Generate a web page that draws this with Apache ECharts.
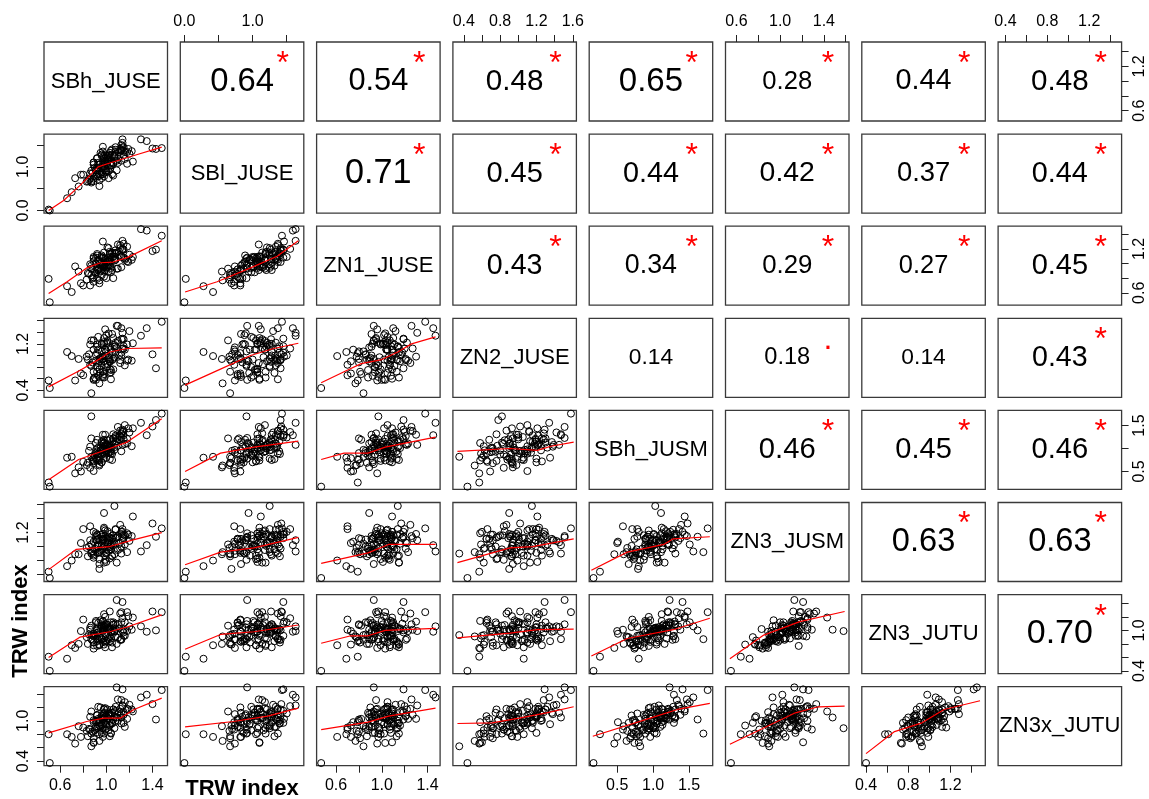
<!DOCTYPE html>
<html><head><meta charset="utf-8">
<script src="https://cdn.jsdelivr.net/npm/echarts@6/dist/echarts.min.js"></script>
<style>html,body{margin:0;padding:0;background:#fff}#c{width:1149px;height:799px}</style>
</head><body><div id="c"></div>
<script>
// ---------- variables (tree-ring width indices, one value per year) ----------
const varNames = ['SBh_JUSE','SBl_JUSE','ZN1_JUSE','ZN2_JUSE','SBh_JUSM','ZN3_JUSM','ZN3_JUTU','ZN3x_JUTU'];

const SBh_JUSE = [1.05,0.87,1.16,0.95,1.04,0.92,1.18,0.97,0.89,1.13,
0.76,1.04,1.10,0.95,0.94,1.23,1.03,0.98,0.87,1.01,
1.06,1.14,0.80,1.09,1.01,1.16,0.89,1.00,1.03,0.98,
1.35,0.86,0.96,1.05,1.07,1.07,1.04,0.87,1.02,1.03,
1.13,0.93,1.15,0.92,0.70,0.97,1.08,0.94,1.12,0.96,
0.98,1.30,0.89,1.15,0.78,1.14,0.97,0.99,0.98,0.98,
0.66,1.13,1.06,1.00,0.93,1.43,0.92,0.97,0.89,1.12,
1.40,0.99,1.02,0.93,1.19,0.84,1.22,0.86,1.02,0.94,
1.08,0.91,0.99,0.99,1.18,0.98,0.91,0.93,1.13,0.92,
1.48,0.73,1.09,0.89,1.15,0.96,0.96,1.03,0.50,0.51,
1.07,0.90,1.08,1.00,1.01,0.85,1.20,0.94,0.97,1.10,0.91,1.04,
0.88,1.14,0.99,1.03,0.96,1.05,0.83,1.06,1.00,1.11,0.92,1.02];

const SBl_JUSE = [1.28,0.64,1.34,0.82,1.37,0.89,1.07,1.07,1.05,1.50,
0.55,1.07,1.09,1.32,0.83,1.12,1.07,1.25,0.67,1.21,
0.80,1.63,0.82,1.14,1.12,1.18,1.10,1.07,1.32,0.78,
1.59,0.73,1.25,0.83,1.27,1.25,1.03,0.91,0.74,1.21,
1.37,0.78,1.37,0.98,0.42,1.01,1.39,0.69,1.37,0.87,
0.94,1.63,0.67,1.27,0.82,1.45,0.83,1.18,1.19,1.10,
0.28,1.39,1.07,0.91,1.05,1.41,0.82,1.46,0.73,1.41,
1.42,0.96,1.16,0.98,1.41,0.67,1.36,0.85,1.25,0.56,
1.34,0.78,0.91,1.28,1.34,1.01,0.92,1.09,1.14,1.19,
1.43,0.74,0.92,1.10,1.45,1.00,0.74,1.27,0.02,0.00,
1.22,0.98,1.45,0.88,1.15,0.70,1.30,1.05,1.35,1.18,0.92,1.03,
0.85,1.55,1.12,0.95,1.28,1.40,0.66,1.10,1.25,1.33,1.20,0.90];

const ZN1_JUSE = [1.15,0.93,1.07,0.90,1.02,1.11,1.03,0.98,1.07,1.09,
0.89,0.94,1.26,0.97,0.93,1.09,1.06,0.99,0.84,1.22,
0.80,1.31,0.70,1.15,1.03,1.05,1.09,1.01,1.13,0.82,
1.45,0.70,1.11,0.91,1.06,1.14,0.88,0.97,0.89,1.16,
1.10,0.92,1.27,0.94,0.61,1.08,1.14,0.73,1.25,0.92,
0.89,1.47,0.81,1.19,0.73,1.19,0.97,1.04,1.15,0.96,
0.69,1.10,1.09,0.80,1.04,1.19,0.79,1.30,0.75,1.21,
1.17,1.05,0.98,1.05,1.02,0.87,1.05,0.99,1.21,0.77,
1.05,0.86,1.07,0.91,1.23,0.95,1.08,0.91,0.95,1.13,
1.38,0.96,0.93,1.03,1.08,1.09,0.84,0.97,0.79,0.47,
1.04,0.88,1.18,1.02,0.95,0.86,1.12,0.99,1.08,0.93,1.00,1.09,
0.80,1.20,0.96,1.05,1.01,1.14,0.78,1.10,0.94,1.16,0.91,1.03];

const ZN2_JUSE = [1.06,1.26,0.83,0.96,0.59,1.19,1.19,0.72,1.26,1.00,
0.94,0.71,1.51,0.70,0.94,1.21,0.77,1.20,0.35,1.22,
0.94,1.39,0.66,1.13,1.25,1.10,0.60,1.21,0.93,0.68,
1.47,0.84,0.82,1.37,0.97,1.15,0.75,0.82,1.14,0.90,
1.47,0.65,1.12,0.80,0.99,0.65,1.16,0.90,0.87,1.20,
0.90,1.34,0.72,1.28,0.69,1.29,0.63,1.10,0.62,1.23,
1.06,1.05,0.76,1.07,1.10,0.78,1.04,0.98,1.10,0.92,
1.02,1.10,0.97,1.32,0.93,0.93,0.91,1.19,0.94,0.52,
1.22,1.01,0.84,1.00,0.91,1.30,0.91,0.87,1.28,0.72,
1.58,0.57,1.51,0.58,1.16,0.93,1.07,0.89,0.57,0.44,
1.18,0.62,1.05,1.35,0.85,1.02,1.42,0.76,0.95,1.25,0.58,1.10,
0.88,1.12,1.45,0.70,1.20,0.92,0.98,1.30,0.80,1.00,1.15,1.38];

const SBh_JUSM = [0.75,1.22,1.10,0.96,0.89,1.19,1.21,1.00,0.72,1.24,
0.59,1.02,1.47,1.01,0.66,1.44,1.06,0.78,0.82,1.08,
1.22,1.08,0.71,1.16,0.96,1.51,0.80,1.08,0.77,1.19,
1.29,0.58,1.13,1.14,0.97,1.03,0.93,1.70,0.91,1.01,
1.31,0.74,1.38,0.87,0.82,0.89,1.15,0.79,1.39,0.70,
1.11,1.56,0.68,1.20,0.50,1.41,0.96,0.94,1.05,1.12,
0.80,0.94,1.31,0.90,0.89,1.62,0.76,1.30,0.51,1.27,
1.48,1.05,0.92,1.02,1.44,0.69,1.05,1.04,1.09,0.63,
1.28,0.90,0.87,1.30,1.11,1.13,0.78,0.83,1.33,0.94,
1.76,0.46,1.23,0.74,1.29,0.70,0.97,1.20,0.26,0.17,
1.10,0.85,1.25,0.80,1.18,0.95,1.35,0.73,1.02,1.06,1.12,0.98,
0.76,1.36,1.08,0.92,1.15,0.88,0.64,1.22,0.96,1.20,1.00,1.04];

const ZN3_JUSM = [0.87,1.03,1.16,0.94,1.03,1.09,1.19,1.09,0.87,1.21,
0.89,0.96,1.15,1.17,0.75,1.43,0.83,1.25,0.90,1.05,
1.02,1.09,1.25,0.77,1.11,1.03,1.21,0.78,0.96,1.11,
1.02,1.29,0.96,1.11,0.89,1.58,1.00,0.92,0.94,1.18,
0.90,1.11,1.12,1.16,0.80,1.11,1.25,0.68,1.31,0.91,
1.48,0.93,0.89,1.14,1.05,1.21,0.98,1.23,0.77,1.27,
0.72,1.00,1.13,1.12,1.00,1.14,0.91,1.18,1.07,0.97,
1.33,0.87,1.14,1.03,1.17,0.86,1.15,1.09,1.06,0.92,
1.24,1.10,0.81,1.15,0.92,1.01,1.14,0.91,1.18,1.17,
1.26,0.89,1.13,0.84,1.17,1.01,1.04,1.12,0.64,0.55,
1.05,0.97,1.12,0.90,1.22,1.00,1.08,0.82,1.10,0.95,1.19,1.02,
0.93,1.25,1.06,0.99,1.14,0.86,0.98,1.16,0.92,1.04,1.01,1.09];

const ZN3_JUTU = [0.75,1.07,0.92,1.15,0.88,0.88,1.27,0.98,0.78,1.12,
0.80,0.98,1.09,1.03,0.90,1.19,1.02,1.05,0.93,0.88,
1.08,0.99,1.16,0.80,1.02,1.12,0.92,0.85,0.84,1.07,
0.98,1.01,1.07,0.98,0.98,0.99,1.12,0.87,0.87,1.02,
0.87,1.11,1.01,1.00,0.78,1.14,1.02,0.79,1.25,0.87,
1.01,1.06,0.82,0.97,0.99,1.42,0.83,1.20,0.79,1.24,
0.58,0.86,1.09,1.09,0.97,1.00,0.84,1.13,0.95,0.86,
1.28,0.82,1.01,1.03,1.21,0.80,1.01,1.04,1.02,0.91,
0.91,1.12,0.75,1.09,0.99,1.03,0.92,0.86,1.27,0.77,
1.27,0.74,1.45,0.73,0.92,1.05,0.86,1.28,0.61,0.40,
0.99,0.93,1.10,0.84,1.08,0.94,1.06,0.78,1.00,0.89,1.14,0.97,
0.85,1.18,1.05,0.90,1.09,0.82,0.90,1.12,0.95,1.03,0.96,1.04];

const ZN3x_JUTU = [0.97,1.14,0.91,1.20,0.81,1.08,1.18,0.89,1.01,1.11,
0.92,0.82,1.32,0.91,0.97,1.14,1.00,1.11,0.62,1.17,
1.02,1.23,0.90,1.05,1.04,1.28,0.68,1.07,0.77,1.03,
1.39,0.87,0.94,1.12,1.13,0.89,1.12,0.81,1.10,0.93,
1.05,1.01,1.09,1.09,0.76,1.07,1.00,0.93,1.18,0.82,
1.05,1.35,0.74,1.13,0.76,1.47,0.76,1.19,0.81,1.18,
0.80,0.96,1.17,1.00,1.03,1.02,0.98,1.03,0.98,1.08,
1.25,0.96,0.86,1.21,1.17,0.77,1.17,1.06,1.07,0.70,
1.21,0.91,0.87,1.06,1.03,1.17,0.82,0.91,1.31,0.89,
1.46,0.66,1.50,0.67,0.97,1.08,0.93,1.10,0.80,0.37,
1.06,0.86,1.15,0.95,1.04,0.88,1.24,0.80,1.02,1.00,0.98,1.08,
0.84,1.22,1.12,0.94,1.05,0.96,0.85,1.17,0.92,1.13,1.00,1.10];

// ---------- correlation coefficients (upper triangle, row by row) ----------
const corrRow1 = [0.64,0.54,0.48,0.65,0.28,0.44,0.48];
const corrRow2 = [0.71,0.45,0.44,0.42,0.37,0.44];
const corrRow3 = [0.43,0.34,0.29,0.27,0.45];
const corrRow4 = [0.14,0.18,0.14,0.43];
const corrRow5 = [0.46,0.45,0.46];
const corrRow6 = [0.63,0.63];
const corrRow7 = [0.70];
const sigRow1 = ['*','*','*','*','*','*','*'];
const sigRow2 = ['*','*','*','*','*','*'];
const sigRow3 = ['*','*','*','*','*'];
const sigRow4 = ['','.','','*'];
const sigRow5 = ['*','*','*'];
const sigRow6 = ['*','*'];
const sigRow7 = ['*'];

// ---------- axis ranges and tick labels per variable ----------
const axisMin = [0.46,-0.06,0.43,0.28,0.11,0.50,0.36,0.33];
const axisMax = [1.53, 1.75,1.51,1.64,1.83,1.63,1.53,1.51];
const ticksV1 = [0.6,0.8,1.0,1.2,1.4];
const ticksV2 = [0.0,0.5,1.0,1.5];
const ticksV3 = [0.6,0.8,1.0,1.2,1.4];
const ticksV4 = [0.4,0.6,0.8,1.0,1.2,1.4,1.6];
const ticksV5 = [0.5,1.0,1.5];
const ticksV6 = [0.6,0.8,1.0,1.2,1.4,1.6];
const ticksV7 = [0.4,0.6,0.8,1.0,1.2,1.4];
const ticksV8 = [0.4,0.6,0.8,1.0,1.2,1.4];
// labels on the horizontal (top/bottom) axes
const xLabelsV1 = [0.6,1.0,1.4];
const xLabelsV2 = [0.0,1.0];
const xLabelsV3 = [0.6,1.0,1.4];
const xLabelsV4 = [0.4,0.8,1.2,1.6];
const xLabelsV5 = [0.5,1.0,1.5];
const xLabelsV6 = [0.6,1.0,1.4];
const xLabelsV7 = [0.4,0.8,1.2];
const xLabelsV8 = [0.4,0.8,1.2];
// labels on the vertical (left/right) axes
const yLabelsV1 = [0.6,1.2];
const yLabelsV2 = [0.0,1.0];
const yLabelsV3 = [0.6,1.2];
const yLabelsV4 = [0.4,1.2];
const yLabelsV5 = [0.5,1.5];
const yLabelsV6 = [1.2];
const yLabelsV7 = [0.4,1.0];
const yLabelsV8 = [0.4,1.0];

// ---------- red smoother lines (x = column var, y = row var) ----------
const loess_2_1 = [[0.50,0.00],[0.63,0.23],[0.77,0.57],[0.93,1.00],[1.01,1.07],[1.24,1.26],[1.48,1.45]];
const loess_3_1 = [[0.50,0.59],[0.66,0.75],[0.83,0.94],[0.95,1.01],[1.06,1.02],[1.18,1.08],[1.48,1.31]];
const loess_3_2 = [[0.01,0.61],[0.48,0.75],[0.97,0.94],[1.36,1.10],[1.67,1.31]];
const loess_4_1 = [[0.50,0.46],[0.77,0.74],[0.95,0.95],[1.03,1.06],[1.18,1.12],[1.48,1.13]];
const loess_4_2 = [[0.01,0.49],[0.48,0.74],[0.97,1.00],[1.31,1.12],[1.67,1.21]];
const loess_4_3 = [[0.47,0.53],[0.67,0.72],[0.82,0.86],[1.00,0.93],[1.14,1.06],[1.26,1.20],[1.47,1.32]];
const loess_5_1 = [[0.50,0.32],[0.76,0.76],[1.03,1.00],[1.18,1.14],[1.48,1.65]];
const loess_5_2 = [[0.01,0.50],[0.53,0.90],[1.02,1.03],[1.67,1.16]];
const loess_5_3 = [[0.47,0.76],[0.67,0.90],[0.88,0.90],[1.03,1.03],[1.47,1.25]];
const loess_5_4 = [[0.33,0.94],[0.91,1.00],[1.21,0.96],[1.36,1.05],[1.61,1.14]];
const loess_6_1 = [[0.50,0.67],[0.74,0.96],[1.03,1.00],[1.24,1.10],[1.48,1.20]];
const loess_6_2 = [[0.01,0.74],[0.53,0.92],[1.02,0.98],[1.67,1.13]];
const loess_6_3 = [[0.47,0.76],[0.88,0.91],[1.06,1.03],[1.47,1.03]];
const loess_6_4 = [[0.33,0.77],[0.91,0.98],[1.16,1.00],[1.61,1.11]];
const loess_6_5 = [[0.14,0.66],[0.64,0.92],[1.15,1.03],[1.28,1.11],[1.79,1.14]];
const loess_7_1 = [[0.50,0.60],[0.77,0.90],[1.03,0.98],[1.18,1.05],[1.48,1.23]];
const loess_7_2 = [[0.01,0.72],[0.53,0.94],[1.02,0.98],[1.67,1.08]];
const loess_7_3 = [[0.47,0.81],[0.73,0.92],[0.88,0.92],[1.03,1.00],[1.47,1.03]];
const loess_7_4 = [[0.33,0.89],[0.91,0.96],[1.21,1.01],[1.61,1.02]];
const loess_7_5 = [[0.14,0.62],[0.64,0.88],[1.28,1.01],[1.79,1.18]];
const loess_7_6 = [[0.54,0.58],[0.85,0.93],[1.18,1.13],[1.59,1.28]];
const loess_8_1 = [[0.50,0.82],[0.83,0.99],[0.98,1.04],[1.12,1.04],[1.24,1.17],[1.48,1.34]];
const loess_8_2 = [[0.01,0.91],[0.72,0.99],[1.22,1.07],[1.67,1.19]];
const loess_8_3 = [[0.47,0.87],[0.88,0.98],[1.06,1.07],[1.47,1.19]];
const loess_8_4 = [[0.33,0.96],[0.71,0.97],[1.01,1.04],[1.31,1.12],[1.61,1.21]];
const loess_8_5 = [[0.16,0.77],[0.96,1.04],[1.34,1.17],[1.79,1.26]];
const loess_8_6 = [[0.54,0.65],[1.14,1.12],[1.35,1.21],[1.59,1.22]];
const loess_8_7 = [[0.40,0.51],[0.67,0.84],[0.93,0.97],[1.14,1.17],[1.48,1.30]];

const axisTitle = 'TRW index';

// ---------- tables built from the arrays above ----------
const vars = [SBh_JUSE,SBl_JUSE,ZN1_JUSE,ZN2_JUSE,SBh_JUSM,ZN3_JUSM,ZN3_JUTU,ZN3x_JUTU];
const ticks = [ticksV1,ticksV2,ticksV3,ticksV4,ticksV5,ticksV6,ticksV7,ticksV8];
const xLabels = [xLabelsV1,xLabelsV2,xLabelsV3,xLabelsV4,xLabelsV5,xLabelsV6,xLabelsV7,xLabelsV8];
const yLabels = [yLabelsV1,yLabelsV2,yLabelsV3,yLabelsV4,yLabelsV5,yLabelsV6,yLabelsV7,yLabelsV8];
const corrRows = [corrRow1,corrRow2,corrRow3,corrRow4,corrRow5,corrRow6,corrRow7];
const sigRows = [sigRow1,sigRow2,sigRow3,sigRow4,sigRow5,sigRow6,sigRow7];
const loess = {
  '2_1':loess_2_1,'3_1':loess_3_1,'3_2':loess_3_2,'4_1':loess_4_1,'4_2':loess_4_2,'4_3':loess_4_3,
  '5_1':loess_5_1,'5_2':loess_5_2,'5_3':loess_5_3,'5_4':loess_5_4,
  '6_1':loess_6_1,'6_2':loess_6_2,'6_3':loess_6_3,'6_4':loess_6_4,'6_5':loess_6_5,
  '7_1':loess_7_1,'7_2':loess_7_2,'7_3':loess_7_3,'7_4':loess_7_4,'7_5':loess_7_5,'7_6':loess_7_6,
  '8_1':loess_8_1,'8_2':loess_8_2,'8_3':loess_8_3,'8_4':loess_8_4,'8_5':loess_8_5,'8_6':loess_8_6,'8_7':loess_8_7
};

// ---------- layout ----------
const FONT = '"Liberation Sans", Arial, Helvetica, sans-serif';
const left0 = 44, pitchX = 136.3, panelW = 123.5;
const top0 = 42, pitchY = 92.1, panelH = 79;
const K = vars.length;
const fmt = v => v.toFixed(1);
const frac = (k, f) => axisMin[k] + f * (axisMax[k] - axisMin[k]);
const hidden = {color: 'rgba(0,0,0,0)', opacity: 1};

const grid = [], xAxis = [], yAxis = [], series = [];
for (let r = 0; r < K; r++) {
  for (let c = 0; c < K; c++) {
    const gi = r * K + c;
    grid.push({left: left0 + c * pitchX, top: top0 + r * pitchY, width: panelW, height: panelH,
      show: true, borderColor: '#3a3a3a', borderWidth: 1.3, backgroundColor: 'transparent', containLabel: false});
    const showTop = (r === 0 && c % 2 === 1);
    const showBottom = (r === K - 1 && c % 2 === 0);
    const showX = showTop || showBottom;
    xAxis.push({type: 'value', gridIndex: gi, min: axisMin[c], max: axisMax[c],
      position: showTop ? 'top' : 'bottom',
      axisLine: {show: false}, splitLine: {show: false},
      axisTick: {show: showX, inside: false, length: 7, lineStyle: {color: '#222', width: 1}, customValues: ticks[c]},
      axisLabel: {show: showX, customValues: xLabels[c], formatter: fmt, fontSize: 16, margin: 12,
        color: '#000', fontFamily: FONT}});
    const showLeft = (c === 0 && r % 2 === 1);
    const showRight = (c === K - 1 && r % 2 === 0);
    const showY = showLeft || showRight;
    yAxis.push({type: 'value', gridIndex: gi, min: axisMin[r], max: axisMax[r],
      position: showRight ? 'right' : 'left',
      axisLine: {show: false}, splitLine: {show: false},
      axisTick: {show: showY, inside: false, length: 7, lineStyle: {color: '#222', width: 1}, customValues: ticks[r]},
      axisLabel: {show: showY, customValues: yLabels[r], formatter: fmt, fontSize: 16, rotate: 90,
        margin: showRight ? 10 : 12, color: '#000', fontFamily: FONT}});

    if (r > c) {
      const xs = vars[c], ys = vars[r];
      const n = Math.min(xs.length, ys.length);
      const pts = [];
      for (let i = 0; i < n; i++) pts.push([xs[i], ys[i]]);
      series.push({type: 'scatter', xAxisIndex: gi, yAxisIndex: gi, data: pts, symbol: 'circle', symbolSize: 7,
        itemStyle: {color: 'rgba(0,0,0,0)', borderColor: '#000', borderWidth: 1.0, opacity: 1}, silent: true, z: 2});
      const lo = loess[(r + 1) + '_' + (c + 1)];
      if (lo) series.push({type: 'line', xAxisIndex: gi, yAxisIndex: gi, data: lo, showSymbol: false, symbol: 'none',
        lineStyle: {color: '#ff0000', width: 1.2, opacity: 1}, silent: true, z: 3});
    } else if (r === c) {
      series.push({type: 'scatter', xAxisIndex: gi, yAxisIndex: gi, data: [[frac(c, 0.5), frac(r, 0.5)]],
        symbolSize: 1, itemStyle: hidden, silent: true,
        label: {show: true, position: 'inside', formatter: varNames[r], fontSize: 22, color: '#000', opacity: 1, fontFamily: FONT}});
    } else {
      const val = corrRows[r][c - r - 1];
      const sig = sigRows[r][c - r - 1];
      series.push({type: 'scatter', xAxisIndex: gi, yAxisIndex: gi, data: [[frac(c, 0.5), frac(r, 0.5), val]],
        symbolSize: 1, itemStyle: hidden, silent: true,
        label: {show: true, position: 'inside', formatter: p => p.value[2].toFixed(2),
          fontSize: 20 * (1 + Math.abs(val)), color: '#000', opacity: 1, fontFamily: FONT}});
      if (sig) series.push({type: 'scatter', xAxisIndex: gi, yAxisIndex: gi, data: [[frac(c, 0.83), frac(r, 0.72)]],
        symbolSize: 1, itemStyle: hidden, silent: true,
        label: {show: true, position: 'inside', formatter: sig, fontSize: 32, color: '#ff0000', opacity: 1, fontFamily: FONT}});
    }
  }
}

const chart = echarts.init(document.getElementById('c'), null, {renderer: 'canvas'});
chart.setOption({
  animation: false,
  backgroundColor: '#ffffff',
  grid, xAxis, yAxis, series,
  graphic: [
    {type: 'text', x: 242, y: 789, silent: true,
      style: {text: axisTitle, fontSize: 22, fontWeight: 'bold', fontFamily: FONT, fill: '#000', align: 'center', verticalAlign: 'middle'}},
    {type: 'text', x: 21, y: 621, rotation: Math.PI / 2, silent: true,
      style: {text: axisTitle, fontSize: 22, fontWeight: 'bold', fontFamily: FONT, fill: '#000', align: 'center', verticalAlign: 'middle'}}
  ]
});
</script>
</body></html>
